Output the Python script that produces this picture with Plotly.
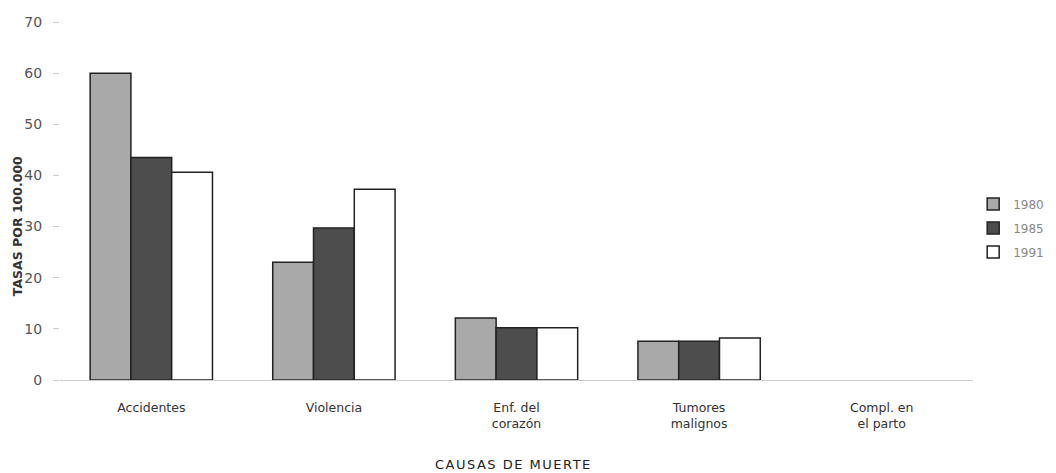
import plotly.graph_objects as go

categories = ["Accidentes", "Violencia", "Enf. del<br>corazón", "Tumores<br>malignos", "Compl. en<br>el parto"]
years = ["1980", "1985", "1991"]
v1980 = [60.0, 23.0, 12.1, 7.6, None]
v1985 = [43.5, 29.7, 10.2, 7.6, None]
v1991 = [40.6, 37.3, 10.2, 8.2, None]
yticks = [0, 10, 20, 30, 40, 50, 60, 70]

colors = ["#a9a9a9", "#4d4d4d", "#ffffff"]
series = [v1980, v1985, v1991]

FONT = "DejaVu Sans, Liberation Sans, Arial, sans-serif"

fig = go.Figure()
for name, vals, col in zip(years, series, colors):
    fig.add_trace(go.Bar(
        x=categories, y=vals, name=name, legendgroup=name,
        marker=dict(color=col, line=dict(color="#222222", width=1.5)),
    ))

fig.update_layout(
    width=1056, height=473,
    margin=dict(l=52, r=91, t=14, b=101),
    paper_bgcolor="white", plot_bgcolor="white",
    barmode="group", bargap=0.33, bargroupgap=0,
    font=dict(family=FONT, size=13, color="#444"),
    showlegend=True,
    legend=dict(xref="container", yref="container",
                x=0.914, xanchor="left", y=0.535, yanchor="middle",
                font=dict(size=12, color="#888"), tracegroupgap=5,
                itemwidth=30),
    xaxis=dict(
        automargin=False,
        showline=True, linecolor="#cccccc", linewidth=1,
        ticks="", showgrid=False, ticklabelstandoff=16,
        tickfont=dict(size=12.5, color="#333"),
    ),
    yaxis=dict(
        automargin=False,
        range=[0, 70], tickvals=yticks, showgrid=False, zeroline=False,
        showline=False, ticks="outside", ticklen=6, tickcolor="#cccccc",
        tickfont=dict(size=14, color="#555"), ticklabelstandoff=8,
    ),
    annotations=[
        dict(
            text="<b>TASAS POR 100.000</b>", textangle=-90, xref="paper", yref="paper",
            x=-0.047, y=0.43, xanchor="center", yanchor="middle", showarrow=False,
            font=dict(family=FONT, size=12.5, color="#333"),
        ),
        dict(
            text="<span style='letter-spacing:1.5px'>CAUSAS DE MUERTE</span>",
            xref="paper", yref="paper",
            x=0.497, y=-0.237, xanchor="center", yanchor="middle", showarrow=False,
            font=dict(family=FONT, size=13, color="#222"),
        ),
    ],
)

fig.write_html("out.html")
